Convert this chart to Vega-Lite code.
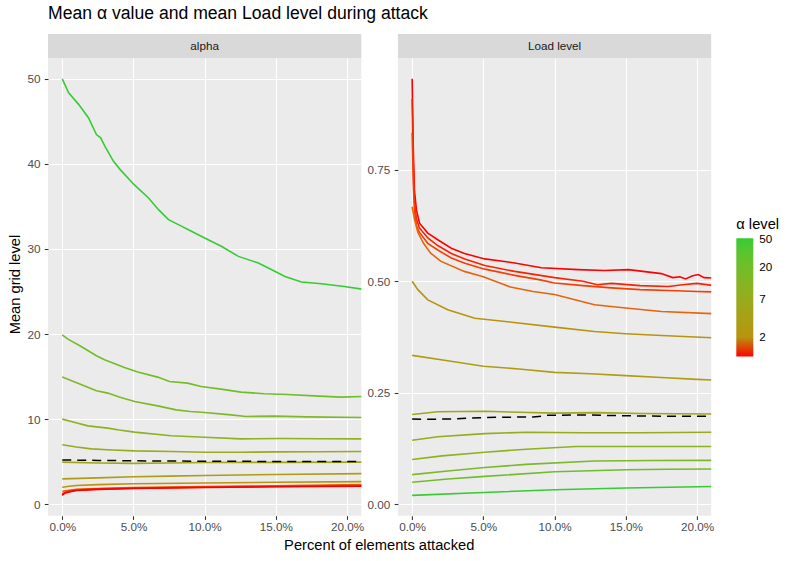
{
  "$schema": "https://vega.github.io/schema/vega-lite/v6.json",
  "description": "Mean alpha value and mean load level during attack, one line per alpha level, with the overall mean dashed.",
  "padding": {"left": 7, "top": 5, "right": 5, "bottom": 5},
  "title": {
    "text": "Mean α value and mean Load level during attack",
    "anchor": "start",
    "frame": "group",
    "fontSize": 17.6,
    "fontWeight": "normal",
    "color": "#000000",
    "baseline": "alphabetic",
    "offset": -3
  },
  "datasets": {
    "curves": [
      {"panel": "alpha", "level": 50, "x": 0, "y": 50},
      {"panel": "alpha", "level": 50, "x": 0.0045, "y": 48.35},
      {"panel": "alpha", "level": 50, "x": 0.0115, "y": 47.0},
      {"panel": "alpha", "level": 50, "x": 0.0185, "y": 45.4},
      {"panel": "alpha", "level": 50, "x": 0.024, "y": 43.45},
      {"panel": "alpha", "level": 50, "x": 0.027, "y": 43.06},
      {"panel": "alpha", "level": 50, "x": 0.03, "y": 42.07},
      {"panel": "alpha", "level": 50, "x": 0.036, "y": 40.3},
      {"panel": "alpha", "level": 50, "x": 0.0407, "y": 39.33},
      {"panel": "alpha", "level": 50, "x": 0.0505, "y": 37.56},
      {"panel": "alpha", "level": 50, "x": 0.0606, "y": 36.0},
      {"panel": "alpha", "level": 50, "x": 0.0676, "y": 34.62},
      {"panel": "alpha", "level": 50, "x": 0.0746, "y": 33.45},
      {"panel": "alpha", "level": 50, "x": 0.084, "y": 32.66},
      {"panel": "alpha", "level": 50, "x": 0.0886, "y": 32.27},
      {"panel": "alpha", "level": 50, "x": 0.1, "y": 31.3},
      {"panel": "alpha", "level": 50, "x": 0.112, "y": 30.3},
      {"panel": "alpha", "level": 50, "x": 0.1237, "y": 29.13},
      {"panel": "alpha", "level": 50, "x": 0.1377, "y": 28.35},
      {"panel": "alpha", "level": 50, "x": 0.1447, "y": 27.76},
      {"panel": "alpha", "level": 50, "x": 0.1564, "y": 26.78},
      {"panel": "alpha", "level": 50, "x": 0.168, "y": 26.12},
      {"panel": "alpha", "level": 50, "x": 0.182, "y": 25.92},
      {"panel": "alpha", "level": 50, "x": 0.198, "y": 25.6},
      {"panel": "alpha", "level": 50, "x": 0.212, "y": 25.25},

      {"panel": "alpha", "level": 20, "x": 0, "y": 19.9},
      {"panel": "alpha", "level": 20, "x": 0.004, "y": 19.4},
      {"panel": "alpha", "level": 20, "x": 0.0133, "y": 18.54},
      {"panel": "alpha", "level": 20, "x": 0.024, "y": 17.45},
      {"panel": "alpha", "level": 20, "x": 0.0297, "y": 16.98},
      {"panel": "alpha", "level": 20, "x": 0.0437, "y": 16.07},
      {"panel": "alpha", "level": 20, "x": 0.053, "y": 15.53},
      {"panel": "alpha", "level": 20, "x": 0.067, "y": 14.94},
      {"panel": "alpha", "level": 20, "x": 0.0753, "y": 14.42},
      {"panel": "alpha", "level": 20, "x": 0.088, "y": 14.23},
      {"panel": "alpha", "level": 20, "x": 0.0975, "y": 13.84},
      {"panel": "alpha", "level": 20, "x": 0.1115, "y": 13.53},
      {"panel": "alpha", "level": 20, "x": 0.1255, "y": 13.18},
      {"panel": "alpha", "level": 20, "x": 0.142, "y": 12.98},
      {"panel": "alpha", "level": 20, "x": 0.158, "y": 12.9},
      {"panel": "alpha", "level": 20, "x": 0.177, "y": 12.74},
      {"panel": "alpha", "level": 20, "x": 0.1957, "y": 12.59},
      {"panel": "alpha", "level": 20, "x": 0.212, "y": 12.66},

      {"panel": "alpha", "level": 15, "x": 0, "y": 14.94},
      {"panel": "alpha", "level": 15, "x": 0.011, "y": 14.23},
      {"panel": "alpha", "level": 15, "x": 0.024, "y": 13.33},
      {"panel": "alpha", "level": 15, "x": 0.032, "y": 13.06},
      {"panel": "alpha", "level": 15, "x": 0.04, "y": 12.6},
      {"panel": "alpha", "level": 15, "x": 0.0508, "y": 12.07},
      {"panel": "alpha", "level": 15, "x": 0.067, "y": 11.56},
      {"panel": "alpha", "level": 15, "x": 0.08, "y": 11.09},
      {"panel": "alpha", "level": 15, "x": 0.09, "y": 10.9},
      {"panel": "alpha", "level": 15, "x": 0.1, "y": 10.78},
      {"panel": "alpha", "level": 15, "x": 0.1185, "y": 10.5},
      {"panel": "alpha", "level": 15, "x": 0.129, "y": 10.31},
      {"panel": "alpha", "level": 15, "x": 0.149, "y": 10.35},
      {"panel": "alpha", "level": 15, "x": 0.172, "y": 10.27},
      {"panel": "alpha", "level": 15, "x": 0.212, "y": 10.19},

      {"panel": "alpha", "level": 10, "x": 0, "y": 10.0},
      {"panel": "alpha", "level": 10, "x": 0.009, "y": 9.6},
      {"panel": "alpha", "level": 10, "x": 0.018, "y": 9.21},
      {"panel": "alpha", "level": 10, "x": 0.032, "y": 8.94},
      {"panel": "alpha", "level": 10, "x": 0.04, "y": 8.72},
      {"panel": "alpha", "level": 10, "x": 0.0508, "y": 8.47},
      {"panel": "alpha", "level": 10, "x": 0.0765, "y": 8.04},
      {"panel": "alpha", "level": 10, "x": 0.1, "y": 7.88},
      {"panel": "alpha", "level": 10, "x": 0.1255, "y": 7.68},
      {"panel": "alpha", "level": 10, "x": 0.1536, "y": 7.72},
      {"panel": "alpha", "level": 10, "x": 0.18, "y": 7.7},
      {"panel": "alpha", "level": 10, "x": 0.212, "y": 7.68},

      {"panel": "alpha", "level": 7, "x": 0, "y": 6.98},
      {"panel": "alpha", "level": 7, "x": 0.01, "y": 6.72},
      {"panel": "alpha", "level": 7, "x": 0.0204, "y": 6.5},
      {"panel": "alpha", "level": 7, "x": 0.035, "y": 6.38},
      {"panel": "alpha", "level": 7, "x": 0.0508, "y": 6.27},
      {"panel": "alpha", "level": 7, "x": 0.0765, "y": 6.19},
      {"panel": "alpha", "level": 7, "x": 0.1, "y": 6.11},
      {"panel": "alpha", "level": 7, "x": 0.125, "y": 6.11},
      {"panel": "alpha", "level": 7, "x": 0.15, "y": 6.15},
      {"panel": "alpha", "level": 7, "x": 0.18, "y": 6.17},
      {"panel": "alpha", "level": 7, "x": 0.212, "y": 6.19},

      {"panel": "alpha", "level": 5, "x": 0, "y": 4.95},
      {"panel": "alpha", "level": 5, "x": 0.025, "y": 4.85},
      {"panel": "alpha", "level": 5, "x": 0.05, "y": 4.8},
      {"panel": "alpha", "level": 5, "x": 0.075, "y": 4.85},
      {"panel": "alpha", "level": 5, "x": 0.1, "y": 4.9},
      {"panel": "alpha", "level": 5, "x": 0.15, "y": 4.92},
      {"panel": "alpha", "level": 5, "x": 0.212, "y": 4.95},

      {"panel": "alpha", "level": 3, "x": 0, "y": 2.98},
      {"panel": "alpha", "level": 3, "x": 0.025, "y": 3.1},
      {"panel": "alpha", "level": 3, "x": 0.05, "y": 3.22},
      {"panel": "alpha", "level": 3, "x": 0.075, "y": 3.3},
      {"panel": "alpha", "level": 3, "x": 0.1, "y": 3.38},
      {"panel": "alpha", "level": 3, "x": 0.15, "y": 3.5},
      {"panel": "alpha", "level": 3, "x": 0.212, "y": 3.6},

      {"panel": "alpha", "level": 2, "x": 0, "y": 2.0},
      {"panel": "alpha", "level": 2, "x": 0.005, "y": 2.12},
      {"panel": "alpha", "level": 2, "x": 0.01, "y": 2.2},
      {"panel": "alpha", "level": 2, "x": 0.025, "y": 2.3},
      {"panel": "alpha", "level": 2, "x": 0.05, "y": 2.4},
      {"panel": "alpha", "level": 2, "x": 0.1, "y": 2.5},
      {"panel": "alpha", "level": 2, "x": 0.15, "y": 2.58},
      {"panel": "alpha", "level": 2, "x": 0.212, "y": 2.66},

      {"panel": "alpha", "level": 1.5, "x": 0, "y": 1.5},
      {"panel": "alpha", "level": 1.5, "x": 0.002, "y": 1.58},
      {"panel": "alpha", "level": 1.5, "x": 0.005, "y": 1.65},
      {"panel": "alpha", "level": 1.5, "x": 0.01, "y": 1.75},
      {"panel": "alpha", "level": 1.5, "x": 0.025, "y": 1.85},
      {"panel": "alpha", "level": 1.5, "x": 0.05, "y": 1.95},
      {"panel": "alpha", "level": 1.5, "x": 0.1, "y": 2.07},
      {"panel": "alpha", "level": 1.5, "x": 0.15, "y": 2.17},
      {"panel": "alpha", "level": 1.5, "x": 0.212, "y": 2.3},

      {"panel": "alpha", "level": 1.2, "x": 0, "y": 1.2},
      {"panel": "alpha", "level": 1.2, "x": 0.002, "y": 1.42},
      {"panel": "alpha", "level": 1.2, "x": 0.005, "y": 1.55},
      {"panel": "alpha", "level": 1.2, "x": 0.01, "y": 1.68},
      {"panel": "alpha", "level": 1.2, "x": 0.025, "y": 1.8},
      {"panel": "alpha", "level": 1.2, "x": 0.05, "y": 1.9},
      {"panel": "alpha", "level": 1.2, "x": 0.1, "y": 2.02},
      {"panel": "alpha", "level": 1.2, "x": 0.15, "y": 2.12},
      {"panel": "alpha", "level": 1.2, "x": 0.212, "y": 2.22},

      {"panel": "alpha", "level": 1.1, "x": 0, "y": 1.1},
      {"panel": "alpha", "level": 1.1, "x": 0.002, "y": 1.36},
      {"panel": "alpha", "level": 1.1, "x": 0.005, "y": 1.5},
      {"panel": "alpha", "level": 1.1, "x": 0.01, "y": 1.65},
      {"panel": "alpha", "level": 1.1, "x": 0.025, "y": 1.77},
      {"panel": "alpha", "level": 1.1, "x": 0.05, "y": 1.88},
      {"panel": "alpha", "level": 1.1, "x": 0.1, "y": 2.0},
      {"panel": "alpha", "level": 1.1, "x": 0.15, "y": 2.08},
      {"panel": "alpha", "level": 1.1, "x": 0.212, "y": 2.17},

      {"panel": "alpha", "level": 1.05, "x": 0, "y": 1.05},
      {"panel": "alpha", "level": 1.05, "x": 0.002, "y": 1.32},
      {"panel": "alpha", "level": 1.05, "x": 0.005, "y": 1.45},
      {"panel": "alpha", "level": 1.05, "x": 0.01, "y": 1.62},
      {"panel": "alpha", "level": 1.05, "x": 0.025, "y": 1.75},
      {"panel": "alpha", "level": 1.05, "x": 0.05, "y": 1.85},
      {"panel": "alpha", "level": 1.05, "x": 0.1, "y": 1.97},
      {"panel": "alpha", "level": 1.05, "x": 0.15, "y": 2.05},
      {"panel": "alpha", "level": 1.05, "x": 0.212, "y": 2.12},

      {"panel": "Load level", "level": 1.05, "x": 0, "y": 0.954},
      {"panel": "Load level", "level": 1.05, "x": 0.0008, "y": 0.8},
      {"panel": "Load level", "level": 1.05, "x": 0.0016, "y": 0.705},
      {"panel": "Load level", "level": 1.05, "x": 0.003, "y": 0.66},
      {"panel": "Load level", "level": 1.05, "x": 0.0052, "y": 0.63},
      {"panel": "Load level", "level": 1.05, "x": 0.011, "y": 0.608},
      {"panel": "Load level", "level": 1.05, "x": 0.018, "y": 0.593},
      {"panel": "Load level", "level": 1.05, "x": 0.0275, "y": 0.574},
      {"panel": "Load level", "level": 1.05, "x": 0.0368, "y": 0.562},
      {"panel": "Load level", "level": 1.05, "x": 0.051, "y": 0.55},
      {"panel": "Load level", "level": 1.05, "x": 0.072, "y": 0.541},
      {"panel": "Load level", "level": 1.05, "x": 0.0908, "y": 0.53},
      {"panel": "Load level", "level": 1.05, "x": 0.1166, "y": 0.526},
      {"panel": "Load level", "level": 1.05, "x": 0.135, "y": 0.524},
      {"panel": "Load level", "level": 1.05, "x": 0.152, "y": 0.526},
      {"panel": "Load level", "level": 1.05, "x": 0.175, "y": 0.517},
      {"panel": "Load level", "level": 1.05, "x": 0.183, "y": 0.508},
      {"panel": "Load level", "level": 1.05, "x": 0.188, "y": 0.51},
      {"panel": "Load level", "level": 1.05, "x": 0.192, "y": 0.505},
      {"panel": "Load level", "level": 1.05, "x": 0.197, "y": 0.512},
      {"panel": "Load level", "level": 1.05, "x": 0.201, "y": 0.515},
      {"panel": "Load level", "level": 1.05, "x": 0.205, "y": 0.508},
      {"panel": "Load level", "level": 1.05, "x": 0.212, "y": 0.507},

      {"panel": "Load level", "level": 1.1, "x": 0, "y": 0.909},
      {"panel": "Load level", "level": 1.1, "x": 0.0008, "y": 0.76},
      {"panel": "Load level", "level": 1.1, "x": 0.0016, "y": 0.68},
      {"panel": "Load level", "level": 1.1, "x": 0.003, "y": 0.64},
      {"panel": "Load level", "level": 1.1, "x": 0.005, "y": 0.62},
      {"panel": "Load level", "level": 1.1, "x": 0.011, "y": 0.597},
      {"panel": "Load level", "level": 1.1, "x": 0.018, "y": 0.58},
      {"panel": "Load level", "level": 1.1, "x": 0.0275, "y": 0.562},
      {"panel": "Load level", "level": 1.1, "x": 0.037, "y": 0.55},
      {"panel": "Load level", "level": 1.1, "x": 0.051, "y": 0.535},
      {"panel": "Load level", "level": 1.1, "x": 0.072, "y": 0.522},
      {"panel": "Load level", "level": 1.1, "x": 0.09, "y": 0.513},
      {"panel": "Load level", "level": 1.1, "x": 0.1, "y": 0.508},
      {"panel": "Load level", "level": 1.1, "x": 0.12, "y": 0.5},
      {"panel": "Load level", "level": 1.1, "x": 0.13, "y": 0.492},
      {"panel": "Load level", "level": 1.1, "x": 0.14, "y": 0.495},
      {"panel": "Load level", "level": 1.1, "x": 0.16, "y": 0.49},
      {"panel": "Load level", "level": 1.1, "x": 0.18, "y": 0.488},
      {"panel": "Load level", "level": 1.1, "x": 0.19, "y": 0.492},
      {"panel": "Load level", "level": 1.1, "x": 0.2, "y": 0.495},
      {"panel": "Load level", "level": 1.1, "x": 0.212, "y": 0.49},

      {"panel": "Load level", "level": 1.2, "x": 0, "y": 0.833},
      {"panel": "Load level", "level": 1.2, "x": 0.0008, "y": 0.72},
      {"panel": "Load level", "level": 1.2, "x": 0.0016, "y": 0.66},
      {"panel": "Load level", "level": 1.2, "x": 0.003, "y": 0.625},
      {"panel": "Load level", "level": 1.2, "x": 0.005, "y": 0.61},
      {"panel": "Load level", "level": 1.2, "x": 0.011, "y": 0.585},
      {"panel": "Load level", "level": 1.2, "x": 0.018, "y": 0.57},
      {"panel": "Load level", "level": 1.2, "x": 0.0275, "y": 0.552},
      {"panel": "Load level", "level": 1.2, "x": 0.037, "y": 0.54},
      {"panel": "Load level", "level": 1.2, "x": 0.051, "y": 0.527},
      {"panel": "Load level", "level": 1.2, "x": 0.072, "y": 0.513},
      {"panel": "Load level", "level": 1.2, "x": 0.09, "y": 0.503},
      {"panel": "Load level", "level": 1.2, "x": 0.1, "y": 0.496},
      {"panel": "Load level", "level": 1.2, "x": 0.12, "y": 0.49},
      {"panel": "Load level", "level": 1.2, "x": 0.14, "y": 0.485},
      {"panel": "Load level", "level": 1.2, "x": 0.16, "y": 0.481},
      {"panel": "Load level", "level": 1.2, "x": 0.18, "y": 0.479},
      {"panel": "Load level", "level": 1.2, "x": 0.2, "y": 0.477},
      {"panel": "Load level", "level": 1.2, "x": 0.212, "y": 0.476},

      {"panel": "Load level", "level": 1.5, "x": 0, "y": 0.667},
      {"panel": "Load level", "level": 1.5, "x": 0.0016, "y": 0.64},
      {"panel": "Load level", "level": 1.5, "x": 0.004, "y": 0.61},
      {"panel": "Load level", "level": 1.5, "x": 0.008, "y": 0.585},
      {"panel": "Load level", "level": 1.5, "x": 0.013, "y": 0.563},
      {"panel": "Load level", "level": 1.5, "x": 0.02, "y": 0.545},
      {"panel": "Load level", "level": 1.5, "x": 0.0366, "y": 0.522},
      {"panel": "Load level", "level": 1.5, "x": 0.05, "y": 0.51},
      {"panel": "Load level", "level": 1.5, "x": 0.069, "y": 0.487},
      {"panel": "Load level", "level": 1.5, "x": 0.085, "y": 0.477},
      {"panel": "Load level", "level": 1.5, "x": 0.1, "y": 0.47},
      {"panel": "Load level", "level": 1.5, "x": 0.128, "y": 0.447},
      {"panel": "Load level", "level": 1.5, "x": 0.15, "y": 0.44},
      {"panel": "Load level", "level": 1.5, "x": 0.175, "y": 0.432},
      {"panel": "Load level", "level": 1.5, "x": 0.212, "y": 0.427},

      {"panel": "Load level", "level": 2, "x": 0, "y": 0.5},
      {"panel": "Load level", "level": 2, "x": 0.004, "y": 0.481},
      {"panel": "Load level", "level": 2, "x": 0.011, "y": 0.458},
      {"panel": "Load level", "level": 2, "x": 0.025, "y": 0.436},
      {"panel": "Load level", "level": 2, "x": 0.044, "y": 0.417},
      {"panel": "Load level", "level": 2, "x": 0.07, "y": 0.408},
      {"panel": "Load level", "level": 2, "x": 0.1, "y": 0.397},
      {"panel": "Load level", "level": 2, "x": 0.128, "y": 0.387},
      {"panel": "Load level", "level": 2, "x": 0.15, "y": 0.382},
      {"panel": "Load level", "level": 2, "x": 0.175, "y": 0.378},
      {"panel": "Load level", "level": 2, "x": 0.212, "y": 0.373},

      {"panel": "Load level", "level": 3, "x": 0, "y": 0.3335},
      {"panel": "Load level", "level": 3, "x": 0.025, "y": 0.3216},
      {"panel": "Load level", "level": 3, "x": 0.05, "y": 0.309},
      {"panel": "Load level", "level": 3, "x": 0.075, "y": 0.303},
      {"panel": "Load level", "level": 3, "x": 0.1, "y": 0.2953},
      {"panel": "Load level", "level": 3, "x": 0.125, "y": 0.2924},
      {"panel": "Load level", "level": 3, "x": 0.15, "y": 0.288},
      {"panel": "Load level", "level": 3, "x": 0.175, "y": 0.284},
      {"panel": "Load level", "level": 3, "x": 0.2, "y": 0.2796},
      {"panel": "Load level", "level": 3, "x": 0.212, "y": 0.278},

      {"panel": "Load level", "level": 5, "x": 0, "y": 0.201},
      {"panel": "Load level", "level": 5, "x": 0.018, "y": 0.207},
      {"panel": "Load level", "level": 5, "x": 0.051, "y": 0.208},
      {"panel": "Load level", "level": 5, "x": 0.075, "y": 0.206},
      {"panel": "Load level", "level": 5, "x": 0.1, "y": 0.204},
      {"panel": "Load level", "level": 5, "x": 0.13, "y": 0.205},
      {"panel": "Load level", "level": 5, "x": 0.16, "y": 0.203},
      {"panel": "Load level", "level": 5, "x": 0.212, "y": 0.202},

      {"panel": "Load level", "level": 7, "x": 0, "y": 0.143},
      {"panel": "Load level", "level": 7, "x": 0.018, "y": 0.151},
      {"panel": "Load level", "level": 7, "x": 0.051, "y": 0.158},
      {"panel": "Load level", "level": 7, "x": 0.08, "y": 0.161},
      {"panel": "Load level", "level": 7, "x": 0.12, "y": 0.16},
      {"panel": "Load level", "level": 7, "x": 0.16, "y": 0.16},
      {"panel": "Load level", "level": 7, "x": 0.212, "y": 0.161},

      {"panel": "Load level", "level": 10, "x": 0, "y": 0.1},
      {"panel": "Load level", "level": 10, "x": 0.021, "y": 0.108},
      {"panel": "Load level", "level": 10, "x": 0.051, "y": 0.116},
      {"panel": "Load level", "level": 10, "x": 0.08, "y": 0.123},
      {"panel": "Load level", "level": 10, "x": 0.115, "y": 0.129},
      {"panel": "Load level", "level": 10, "x": 0.16, "y": 0.129},
      {"panel": "Load level", "level": 10, "x": 0.212, "y": 0.129},

      {"panel": "Load level", "level": 15, "x": 0, "y": 0.066},
      {"panel": "Load level", "level": 15, "x": 0.025, "y": 0.074},
      {"panel": "Load level", "level": 15, "x": 0.051, "y": 0.082},
      {"panel": "Load level", "level": 15, "x": 0.08, "y": 0.089},
      {"panel": "Load level", "level": 15, "x": 0.128, "y": 0.0965},
      {"panel": "Load level", "level": 15, "x": 0.17, "y": 0.0975},
      {"panel": "Load level", "level": 15, "x": 0.212, "y": 0.098},

      {"panel": "Load level", "level": 20, "x": 0, "y": 0.049},
      {"panel": "Load level", "level": 20, "x": 0.025, "y": 0.056},
      {"panel": "Load level", "level": 20, "x": 0.051, "y": 0.062},
      {"panel": "Load level", "level": 20, "x": 0.1, "y": 0.0725},
      {"panel": "Load level", "level": 20, "x": 0.15, "y": 0.077},
      {"panel": "Load level", "level": 20, "x": 0.18, "y": 0.078},
      {"panel": "Load level", "level": 20, "x": 0.212, "y": 0.0786},

      {"panel": "Load level", "level": 50, "x": 0, "y": 0.0193},
      {"panel": "Load level", "level": 50, "x": 0.05, "y": 0.026},
      {"panel": "Load level", "level": 50, "x": 0.1, "y": 0.032},
      {"panel": "Load level", "level": 50, "x": 0.15, "y": 0.036},
      {"panel": "Load level", "level": 50, "x": 0.212, "y": 0.0395}
    ],
    "means": [
      {"panel": "alpha", "x": 0, "y": 5.2},
      {"panel": "alpha", "x": 0.025, "y": 5.15},
      {"panel": "alpha", "x": 0.05, "y": 5.1},
      {"panel": "alpha", "x": 0.1, "y": 5.05},
      {"panel": "alpha", "x": 0.15, "y": 5.03},
      {"panel": "alpha", "x": 0.212, "y": 5.03},
      {"panel": "Load level", "x": 0, "y": 0.191},
      {"panel": "Load level", "x": 0.01, "y": 0.19},
      {"panel": "Load level", "x": 0.03, "y": 0.191},
      {"panel": "Load level", "x": 0.05, "y": 0.194},
      {"panel": "Load level", "x": 0.07, "y": 0.195},
      {"panel": "Load level", "x": 0.085, "y": 0.195},
      {"panel": "Load level", "x": 0.095, "y": 0.199},
      {"panel": "Load level", "x": 0.12, "y": 0.2},
      {"panel": "Load level", "x": 0.15, "y": 0.198},
      {"panel": "Load level", "x": 0.18, "y": 0.197},
      {"panel": "Load level", "x": 0.212, "y": 0.197}
    ]
  },
  "vconcat": [
    {
      "title": {
        "text": "Percent of elements attacked",
        "orient": "bottom",
        "anchor": "middle",
        "frame": "bounds",
        "dx": 18.5,
        "baseline": "top",
        "offset": 4.5,
        "fontSize": 14.7,
        "fontWeight": "normal",
        "color": "#000000"
      },
      "hconcat": [
        {
          "vconcat": [
            {
              "width": 313.3,
              "height": 24,
              "view": {"fill": "#D9D9D9", "stroke": null},
              "data": {"values": [{"label": "alpha"}]},
              "mark": {"type": "text", "fontSize": 11.7, "color": "#1A1A1A"},
              "encoding": {"text": {"field": "label", "type": "nominal"}}
            },
            {
              "width": 313.3,
              "height": 457.7,
              "view": {"fill": "#EBEBEB", "stroke": null},
              "layer": [
                {
                  "data": {"name": "curves"},
                  "transform": [{"filter": "datum.panel === 'alpha'"}],
                  "mark": {"type": "line", "strokeWidth": 1.6, "clip": true},
                  "encoding": {
                    "x": {
                      "field": "x", "type": "quantitative",
                      "scale": {"domain": [-0.01, 0.21], "nice": false, "zero": false},
                      "axis": {"orient": "bottom", "values": [0, 0.05, 0.1, 0.15, 0.2], "format": ".1%", "title": null}
                    },
                    "y": {
                      "field": "y", "type": "quantitative",
                      "scale": {"domain": [-1.35, 52.45], "nice": false, "zero": false},
                      "axis": {
                        "orient": "left",
                        "values": [0, 10, 20, 30, 40, 50],
                        "title": "Mean grid level",
                        "titleX": -28.1,
                        "titleY": 226,
                        "titleBaseline": "alphabetic",
                        "titleAlign": "center"
                      }
                    },
                    "color": {
                      "field": "level", "type": "quantitative",
                      "scale": {
                        "type": "log",
                        "domain": [1.05, 1.5, 2, 52],
                        "range": ["#FF0000", "#E8640A", "#B8940E", "#33CC33"],
                        "interpolate": "lab"
                      },
                      "legend": {
                        "title": "α level",
                        "values": [2, 7, 20, 50],
                        "orient": "none",
                        "direction": "vertical",
                        "legendX": 688.3,
                        "legendY": 182.5,
                        "gradientLength": 118.4,
                        "gradientThickness": 17,
                        "gradientStrokeWidth": 0,
                        "labelOffset": 6,
                        "labelOverlap": false,
                        "titlePadding": 7,
                        "padding": 0
                      }
                    },
                    "detail": {"field": "level", "type": "quantitative"}
                  }
                },
                {
                  "data": {"name": "means"},
                  "transform": [{"filter": "datum.panel === 'alpha'"}],
                  "mark": {"type": "line", "color": "#000000", "strokeDash": [9, 6], "strokeWidth": 1.5, "clip": true},
                  "encoding": {
                    "x": {
                      "field": "x", "type": "quantitative",
                      "scale": {"domain": [-0.01, 0.21], "nice": false, "zero": false},
                      "axis": {"orient": "bottom", "values": [0.025, 0.075, 0.125, 0.175], "gridWidth": 0.55, "labels": false, "ticks": false, "title": null}
                    },
                    "y": {
                      "field": "y", "type": "quantitative",
                      "scale": {"domain": [-1.35, 52.45], "nice": false, "zero": false},
                      "axis": {"orient": "left", "values": [5, 15, 25, 35, 45], "gridWidth": 0.55, "labels": false, "ticks": false, "title": null}
                    }
                  }
                }
              ],
              "resolve": {"axis": {"x": "independent", "y": "independent"}}
            }
          ],
          "spacing": 0,
          "bounds": "flush"
        },
        {
          "vconcat": [
            {
              "width": 313.3,
              "height": 24,
              "view": {"fill": "#D9D9D9", "stroke": null},
              "data": {"values": [{"label": "Load level"}]},
              "mark": {"type": "text", "fontSize": 11.7, "color": "#1A1A1A"},
              "encoding": {"text": {"field": "label", "type": "nominal"}}
            },
            {
              "width": 313.3,
              "height": 457.7,
              "view": {"fill": "#EBEBEB", "stroke": null},
              "layer": [
                {
                  "data": {"name": "curves"},
                  "transform": [{"filter": "datum.panel === 'Load level'"}],
                  "mark": {"type": "line", "strokeWidth": 1.6, "clip": true},
                  "encoding": {
                    "x": {
                      "field": "x", "type": "quantitative",
                      "scale": {"domain": [-0.01, 0.21], "nice": false, "zero": false},
                      "axis": {"orient": "bottom", "values": [0, 0.05, 0.1, 0.15, 0.2], "format": ".1%", "title": null}
                    },
                    "y": {
                      "field": "y", "type": "quantitative",
                      "scale": {"domain": [-0.0262, 1.0008], "nice": false, "zero": false},
                      "axis": {"orient": "left", "values": [0, 0.25, 0.5, 0.75], "format": ".2f", "title": null}
                    },
                    "color": {
                      "field": "level", "type": "quantitative",
                      "scale": {
                        "type": "log",
                        "domain": [1.05, 1.5, 2, 52],
                        "range": ["#FF0000", "#E8640A", "#B8940E", "#33CC33"],
                        "interpolate": "lab"
                      }
                    },
                    "detail": {"field": "level", "type": "quantitative"}
                  }
                },
                {
                  "data": {"name": "means"},
                  "transform": [{"filter": "datum.panel === 'Load level'"}],
                  "mark": {"type": "line", "color": "#000000", "strokeDash": [9, 6], "strokeWidth": 1.5, "clip": true},
                  "encoding": {
                    "x": {
                      "field": "x", "type": "quantitative",
                      "scale": {"domain": [-0.01, 0.21], "nice": false, "zero": false},
                      "axis": {"orient": "bottom", "values": [0.025, 0.075, 0.125, 0.175], "gridWidth": 0.55, "labels": false, "ticks": false, "title": null}
                    },
                    "y": {
                      "field": "y", "type": "quantitative",
                      "scale": {"domain": [-0.0262, 1.0008], "nice": false, "zero": false},
                      "axis": {"orient": "left", "values": [0.125, 0.375, 0.625, 0.875], "gridWidth": 0.55, "labels": false, "ticks": false, "title": null}
                    }
                  }
                }
              ],
              "resolve": {"axis": {"x": "independent", "y": "independent"}}
            }
          ],
          "spacing": 0,
          "bounds": "flush"
        }
      ],
      "spacing": 2.9
    }
  ],
  "resolve": {"scale": {"color": "shared"}},
  "config": {
    "font": "Liberation Sans",
    "view": {"stroke": null},
    "axis": {
      "domain": false,
      "grid": true,
      "gridColor": "#FFFFFF",
      "gridWidth": 1.07,
      "tickColor": "#333333",
      "tickSize": 3.7,
      "tickWidth": 1.07,
      "labelFontSize": 11.7,
      "labelColor": "#4D4D4D",
      "titleFontSize": 14.7,
      "titleFontWeight": "normal",
      "titleColor": "#000000"
    },
    "axisX": {"labelPadding": 2.5},
    "axisY": {"labelPadding": 4.4},
    "legend": {
      "titleFontSize": 14.7,
      "titleFontWeight": "normal",
      "titleColor": "#000000",
      "labelFontSize": 11.7,
      "labelColor": "#000000"
    }
  }
}
